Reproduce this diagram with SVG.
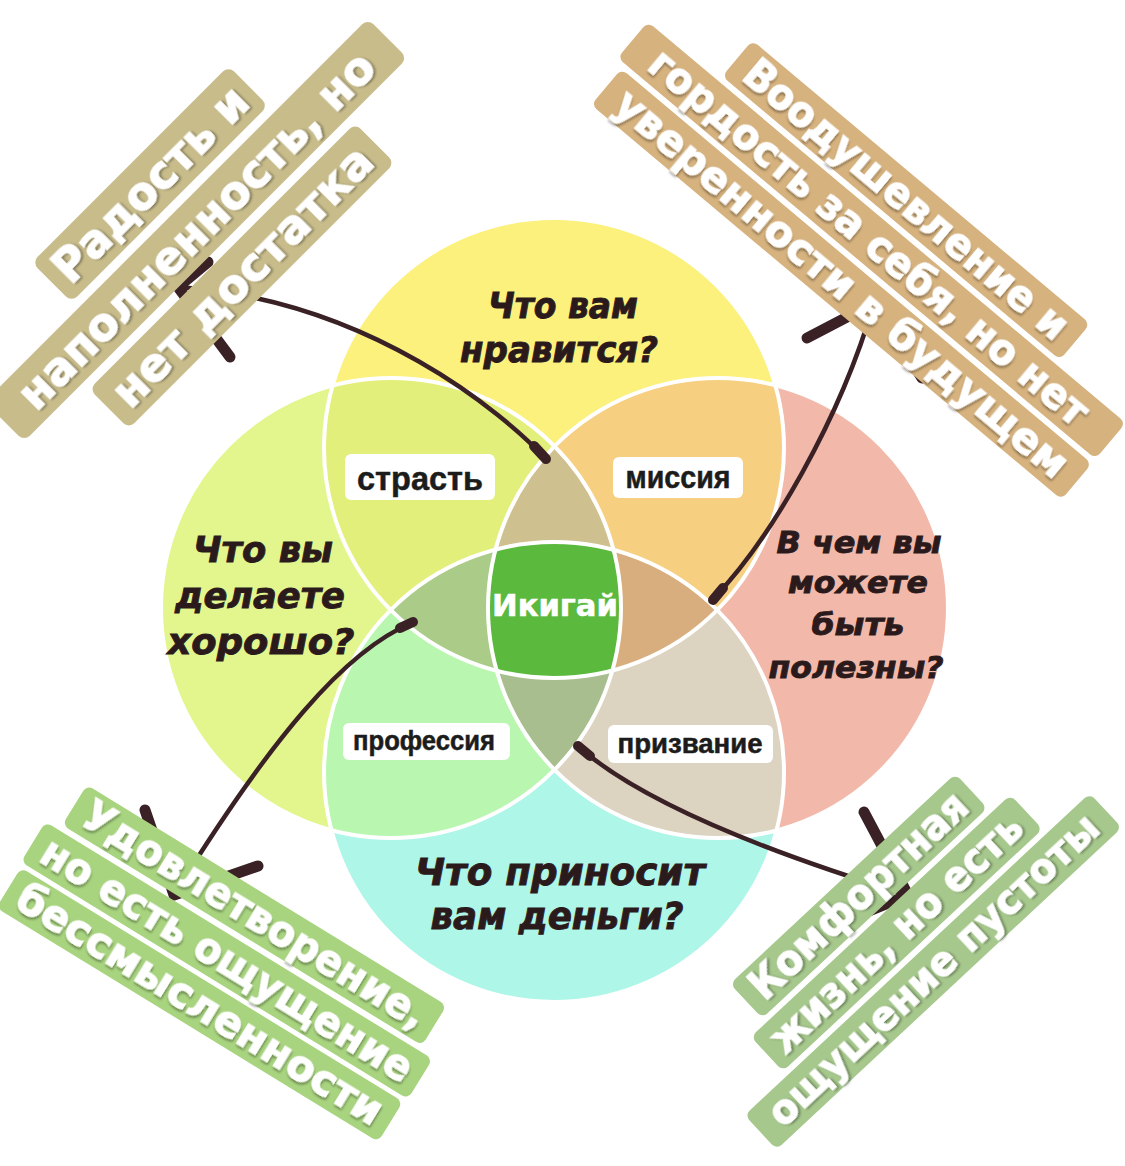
<svg xmlns="http://www.w3.org/2000/svg" width="1125" height="1166" viewBox="0 0 1125 1166">
<defs>
<style>
.q{font-family:"DejaVu Sans","Liberation Sans",sans-serif;font-weight:bold;font-style:italic;fill:#2b1a1c;stroke:#2b1a1c;stroke-width:0.9;text-anchor:middle}
.b{font-family:"Liberation Sans","DejaVu Sans",sans-serif;font-weight:bold;fill:#1c1c1c;stroke:#1c1c1c;stroke-width:0.5;text-anchor:middle}
.tag{fill:#ffffff}
.ol{fill:none;stroke:#ffffff;stroke-width:4}
.ln{fill:none;stroke:#3a2125;stroke-width:4.5;stroke-linecap:round}
.st{fill:none;stroke:#3a2125;stroke-width:10;stroke-linecap:round}
.hd{fill:none;stroke:#3a2125;stroke-width:11;stroke-linecap:round;stroke-linejoin:round}
.cl{font-family:"DejaVu Sans","Liberation Sans",sans-serif;font-weight:bold;fill:#ffffff;stroke:#ffffff;stroke-width:1.2;text-anchor:middle;filter:url(#sh)}
.tl-bar{fill:#c8bc8b}
.tr-bar{fill:#d6b27e}
.bl-bar{fill:#a8d47f}
.br-bar{fill:#a6c88c}
</style>
<filter id="sh" x="-3%" y="-15%" width="106%" height="135%">
<feDropShadow dx="1.5" dy="2" stdDeviation="1.2" flood-color="#000000" flood-opacity="0.35"/>
</filter>
<clipPath id="kT"><circle cx="554" cy="448" r="230"/></clipPath>
<clipPath id="kL"><circle cx="391" cy="608" r="230"/></clipPath>
<clipPath id="kR"><circle cx="718" cy="608" r="230"/></clipPath>
<clipPath id="kB"><circle cx="554" cy="772" r="230"/></clipPath>
</defs>
<rect width="1125" height="1166" fill="#ffffff"/>

<g id="venn">
<g id="circle-top"><circle cx="554" cy="448" r="230" fill="#fbf17c"/></g>
<g id="circle-left"><circle cx="391" cy="608" r="230" fill="#e3f68e"/></g>
<g id="circle-right"><circle cx="718" cy="608" r="230" fill="#f2b9aa"/></g>
<g id="circle-bottom"><circle cx="554" cy="772" r="230" fill="#aef6e7"/></g>
<g clip-path="url(#kL)"><circle cx="554" cy="448" r="230" fill="#e3ef7b"/></g>
<g clip-path="url(#kR)"><circle cx="554" cy="448" r="230" fill="#f6cf80"/></g>
<g clip-path="url(#kL)"><circle cx="554" cy="772" r="230" fill="#b9f6b0"/></g>
<g clip-path="url(#kR)"><circle cx="554" cy="772" r="230" fill="#dcd3c1"/></g>
<g clip-path="url(#kL)"><g clip-path="url(#kR)"><circle cx="554" cy="448" r="230" fill="#cfc18f"/></g></g>
<g clip-path="url(#kL)"><g clip-path="url(#kR)"><circle cx="554" cy="772" r="230" fill="#a9be8e"/></g></g>
<g clip-path="url(#kT)"><g clip-path="url(#kB)"><circle cx="391" cy="608" r="230" fill="#aacc88"/></g></g>
<g clip-path="url(#kT)"><g clip-path="url(#kB)"><circle cx="718" cy="608" r="230" fill="#d9ae7e"/></g></g>
<g clip-path="url(#kT)"><g clip-path="url(#kB)"><g clip-path="url(#kL)"><circle cx="718" cy="608" r="230" fill="#5bb93e"/></g></g></g>
<circle class="ol" cx="554" cy="448" r="230"/>
<circle class="ol" cx="391" cy="608" r="230"/>
<circle class="ol" cx="718" cy="608" r="230"/>
<circle class="ol" cx="554" cy="772" r="230"/>
</g>

<g id="q-top">
<text class="q" x="563" y="318" font-size="35" textLength="150" lengthAdjust="spacingAndGlyphs">Что вам</text>
<text class="q" x="559" y="362" font-size="35" textLength="198" lengthAdjust="spacingAndGlyphs">нравится?</text>
</g>
<g id="q-left">
<text class="q" x="263" y="562" font-size="35" textLength="140" lengthAdjust="spacingAndGlyphs">Что вы</text>
<text class="q" x="260" y="608" font-size="35" textLength="170" lengthAdjust="spacingAndGlyphs">делаете</text>
<text class="q" x="261" y="654" font-size="35" textLength="187" lengthAdjust="spacingAndGlyphs">хорошо?</text>
</g>
<g id="q-right">
<text class="q" x="859" y="553" font-size="31" textLength="165" lengthAdjust="spacingAndGlyphs">В чем вы</text>
<text class="q" x="858" y="593" font-size="31" textLength="140" lengthAdjust="spacingAndGlyphs">можете</text>
<text class="q" x="858" y="635" font-size="31" textLength="93" lengthAdjust="spacingAndGlyphs">быть</text>
<text class="q" x="856" y="678" font-size="31" textLength="175" lengthAdjust="spacingAndGlyphs">полезны?</text>
</g>
<g id="q-bottom">
<text class="q" x="560" y="885" font-size="37" textLength="290" lengthAdjust="spacingAndGlyphs">Что приносит</text>
<text class="q" x="557" y="929" font-size="37" textLength="253" lengthAdjust="spacingAndGlyphs">вам деньги?</text>
</g>

<g id="tag-strast">
<rect class="tag" x="345" y="454" width="150" height="46" rx="6"/>
<text class="b" x="420" y="490" font-size="34" textLength="126" lengthAdjust="spacingAndGlyphs">страсть</text>
</g>
<g id="tag-missiya">
<rect class="tag" x="613" y="457" width="130" height="41" rx="6"/>
<text class="b" x="678" y="488" font-size="31" textLength="105" lengthAdjust="spacingAndGlyphs">миссия</text>
</g>
<g id="tag-professiya">
<rect class="tag" x="343" y="723" width="167" height="37" rx="6"/>
<text class="b" x="424" y="750" font-size="27" textLength="142" lengthAdjust="spacingAndGlyphs">профессия</text>
</g>
<g id="tag-prizvanie">
<rect class="tag" x="608" y="725" width="165" height="38" rx="6"/>
<text class="b" x="690" y="753" font-size="27" textLength="145" lengthAdjust="spacingAndGlyphs">призвание</text>
</g>
<g id="ikigai">
<text x="555" y="616" font-family="DejaVu Sans, Liberation Sans, sans-serif" font-weight="bold" font-size="31" fill="#ffffff" stroke="#ffffff" stroke-width="0.6" text-anchor="middle" textLength="126" lengthAdjust="spacingAndGlyphs">Икигай</text>
</g>

<g id="connectors">
<path class="ln" d="M545,458 C505,415 370,300 178,287"/>
<path class="st" d="M546,459 L534,446"/>
<path class="hd" d="M208,262 L178,287 L230,357"/>
<path class="ln" d="M714,598 C770,540 840,420 874,303"/>
<path class="st" d="M713,600 L723,588"/>
<path class="hd" d="M807,338 L874,303 L922,378"/>
<path class="ln" d="M412,623 C345,650 270,740 174,895"/>
<path class="st" d="M413,622 L400,628"/>
<path class="hd" d="M145,810 L174,895 L258,866"/>
<path class="ln" d="M580,748 C640,800 760,850 908,895"/>
<path class="st" d="M578,746 L590,756"/>
<path class="hd" d="M864,812 L908,895 L835,925"/>
</g>

<g id="label-top-left" transform="translate(196,230) rotate(-45)">
<rect class="tl-bar" x="-139" y="-93" width="278" height="56" rx="8"/>
<rect class="tl-bar" x="-271" y="-28" width="542" height="56" rx="8"/>
<rect class="tl-bar" x="-188" y="37" width="376" height="56" rx="8"/>
<text class="cl" x="0" y="-49" font-size="47" textLength="256" lengthAdjust="spacingAndGlyphs">Радость и</text>
<text class="cl" x="0" y="16" font-size="47" textLength="484" lengthAdjust="spacingAndGlyphs">наполненность, но</text>
<text class="cl" x="0" y="81" font-size="47" textLength="348" lengthAdjust="spacingAndGlyphs">нет достатка</text>
</g>

<g id="label-top-right" transform="translate(872,240) rotate(40)">
<rect class="tr-bar" x="-220" y="-76" width="441" height="47" rx="7"/>
<rect class="tr-bar" x="-312" y="-23" width="624" height="47" rx="7"/>
<rect class="tr-bar" x="-302" y="30" width="614" height="47" rx="7"/>
<text class="cl" x="0" y="-39" font-size="42" textLength="410" lengthAdjust="spacingAndGlyphs">Воодушевление и</text>
<text class="cl" x="-4" y="14" font-size="42" textLength="560" lengthAdjust="spacingAndGlyphs">гордость за себя, но нет</text>
<text class="cl" x="5" y="67" font-size="42" textLength="578" lengthAdjust="spacingAndGlyphs">уверенности в будущем</text>
</g>

<g id="label-bottom-left" transform="translate(227,960) rotate(31.5)">
<rect class="bl-bar" x="-211" y="-76" width="422" height="47" rx="7"/>
<rect class="bl-bar" x="-227" y="-23" width="454" height="47" rx="7"/>
<rect class="bl-bar" x="-224" y="29" width="448" height="47" rx="7"/>
<text class="cl" x="0" y="-39" font-size="43" textLength="396" lengthAdjust="spacingAndGlyphs">Удовлетворение,</text>
<text class="cl" x="0" y="14" font-size="43" textLength="428" lengthAdjust="spacingAndGlyphs">но есть ощущение</text>
<text class="cl" x="0" y="66" font-size="43" textLength="422" lengthAdjust="spacingAndGlyphs">бессмысленности</text>
</g>

<g id="label-bottom-right" transform="translate(896,933) rotate(-43)">
<rect class="br-bar" x="-156" y="-76" width="308" height="47" rx="7"/>
<rect class="br-bar" x="-177" y="-23" width="355" height="47" rx="7"/>
<rect class="br-bar" x="-235" y="30" width="472" height="47" rx="7"/>
<text class="cl" x="-2" y="-39" font-size="42" textLength="282" lengthAdjust="spacingAndGlyphs">Комфортная</text>
<text class="cl" x="0" y="14" font-size="42" textLength="329" lengthAdjust="spacingAndGlyphs">жизнь, но есть</text>
<text class="cl" x="2" y="66" font-size="40" textLength="436" lengthAdjust="spacingAndGlyphs">ощущение пустоты</text>
</g>
</svg>
